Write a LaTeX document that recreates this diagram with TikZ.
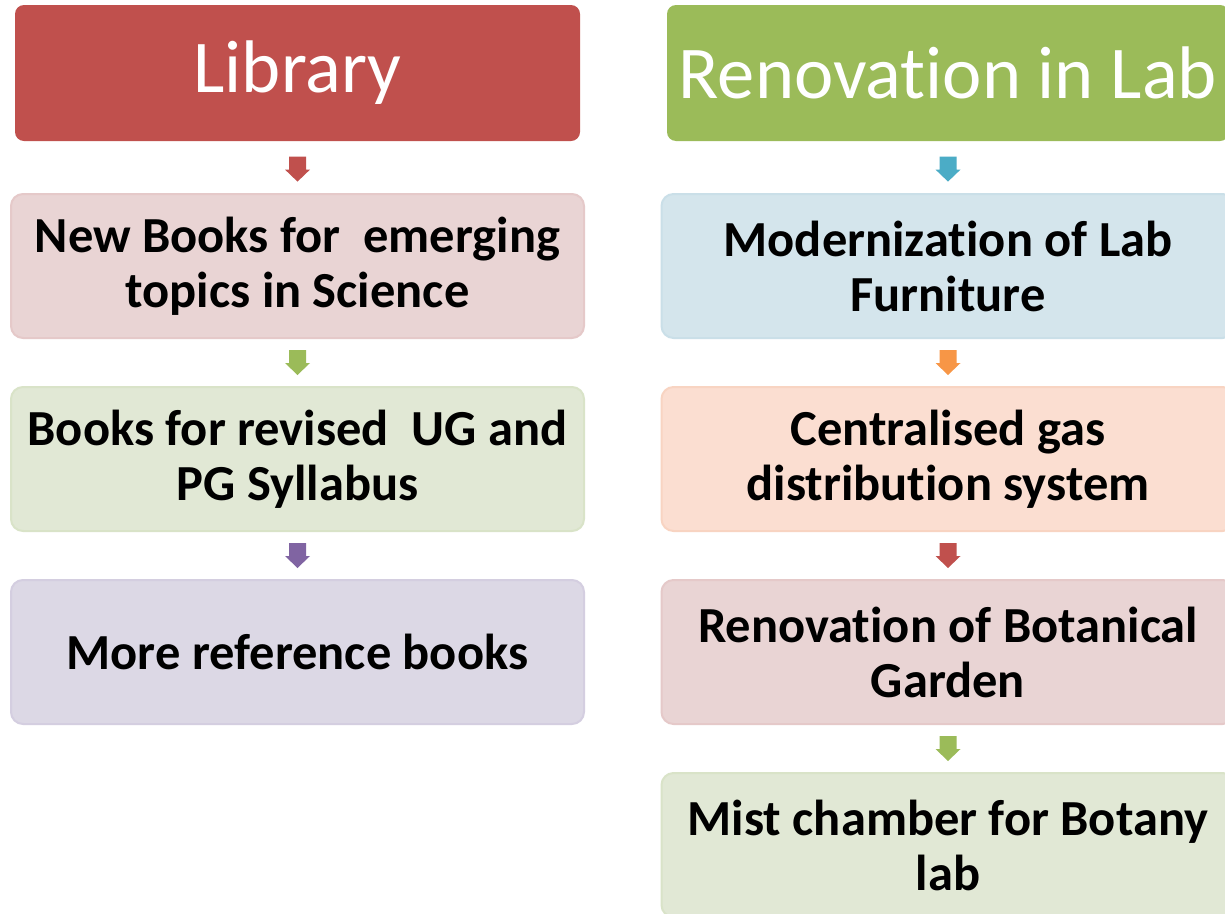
\documentclass[tikz,border=0pt]{standalone}
\usepackage{fontspec}
\setmainfont{Carlito}[Ligatures=NoCommon]
\usetikzlibrary{calc}
\definecolor{cred}{HTML}{C0504D}
\definecolor{cgreen}{HTML}{9BBB59}
\definecolor{cpurple}{HTML}{8064A2}
\definecolor{cblue}{HTML}{4BACC6}
\definecolor{corange}{HTML}{F79646}
\definecolor{fpink}{HTML}{E9D4D4}
\definecolor{bpink}{HTML}{E5C9C9}
\definecolor{fgreen}{HTML}{E1E8D5}
\definecolor{bgreen}{HTML}{D9E3C8}
\definecolor{fpurple}{HTML}{DCD8E5}
\definecolor{bpurple}{HTML}{D4CEE0}
\definecolor{fblue}{HTML}{D4E5EC}
\definecolor{bblue}{HTML}{CADFE8}
\definecolor{forange}{HTML}{FBDED1}
\definecolor{borange}{HTML}{F8D4C2}
\tikzset{
  header/.style={rectangle, rounded corners=9pt, text=white, inner sep=0pt,
    minimum height=136pt, font=\fontsize{74.5}{84}\selectfont},
  itembox/.style={rectangle, rounded corners=12pt, line width=2pt, inner sep=0pt,
    minimum width=573pt, minimum height=144pt, align=center,
    font=\fontsize{50.5}{55}\selectfont\bfseries},
  darrow/.pic={\fill (-8.5,-12.5) -- (8.5,-12.5) -- (8.5,0.5) -- (12.5,0.5) -- (0,12.5) -- (-12.5,0.5) -- (-8.5,0.5) -- cycle;}
}
\begin{document}
\begin{tikzpicture}[x=1pt,y=-1pt]
\useasboundingbox (0,0) rectangle (1225,913);
\clip (0,0) rectangle (1225,913);
\fill[white] (0,0) rectangle (1225,913);
% left column
\node[header, fill=cred, minimum width=565pt] (lh) at (297.5,73) {Library};
\node[itembox, fill=fpink, draw=bpink] (l1) at (297.5,266) {New Books for~ emerging\\topics in Science};
\node[itembox, fill=fgreen, draw=bgreen] (l2) at (297.5,459) {Books for revised~ UG and\\PG Syllabus};
\node[itembox, fill=fpurple, draw=bpurple] (l3) at (297.5,652) {More reference books};
\path ($(lh.south)!0.5!(l1.north)+(0,2)$) pic[fill=cred] {darrow};
\path ($(l1.south)!0.5!(l2.north)+(0,0)$) pic[fill=cgreen] {darrow};
\path ($(l2.south)!0.5!(l3.north)+(0,0)$) pic[fill=cpurple] {darrow};
% right column
\node[header, fill=cgreen, minimum width=562pt] (rh) at (948,73) {Renovation in Lab};
\node[itembox, fill=fblue, draw=bblue] (r1) at (948,266) {Modernization of Lab\\Furniture};
\node[itembox, fill=forange, draw=borange] (r2) at (948,459) {Centralised gas\\distribution system};
\node[itembox, fill=fpink, draw=bpink] (r3) at (948,652) {Renovation of Botanical\\Garden};
\node[itembox, fill=fgreen, draw=bgreen] (r4) at (948,845) {Mist chamber for Botany\\lab};
\path ($(rh.south)!0.5!(r1.north)+(0,2)$) pic[fill=cblue] {darrow};
\path ($(r1.south)!0.5!(r2.north)+(0,0)$) pic[fill=corange] {darrow};
\path ($(r2.south)!0.5!(r3.north)+(0,0)$) pic[fill=cred] {darrow};
\path ($(r3.south)!0.5!(r4.north)+(0,0)$) pic[fill=cgreen] {darrow};
\end{tikzpicture}
\end{document}
